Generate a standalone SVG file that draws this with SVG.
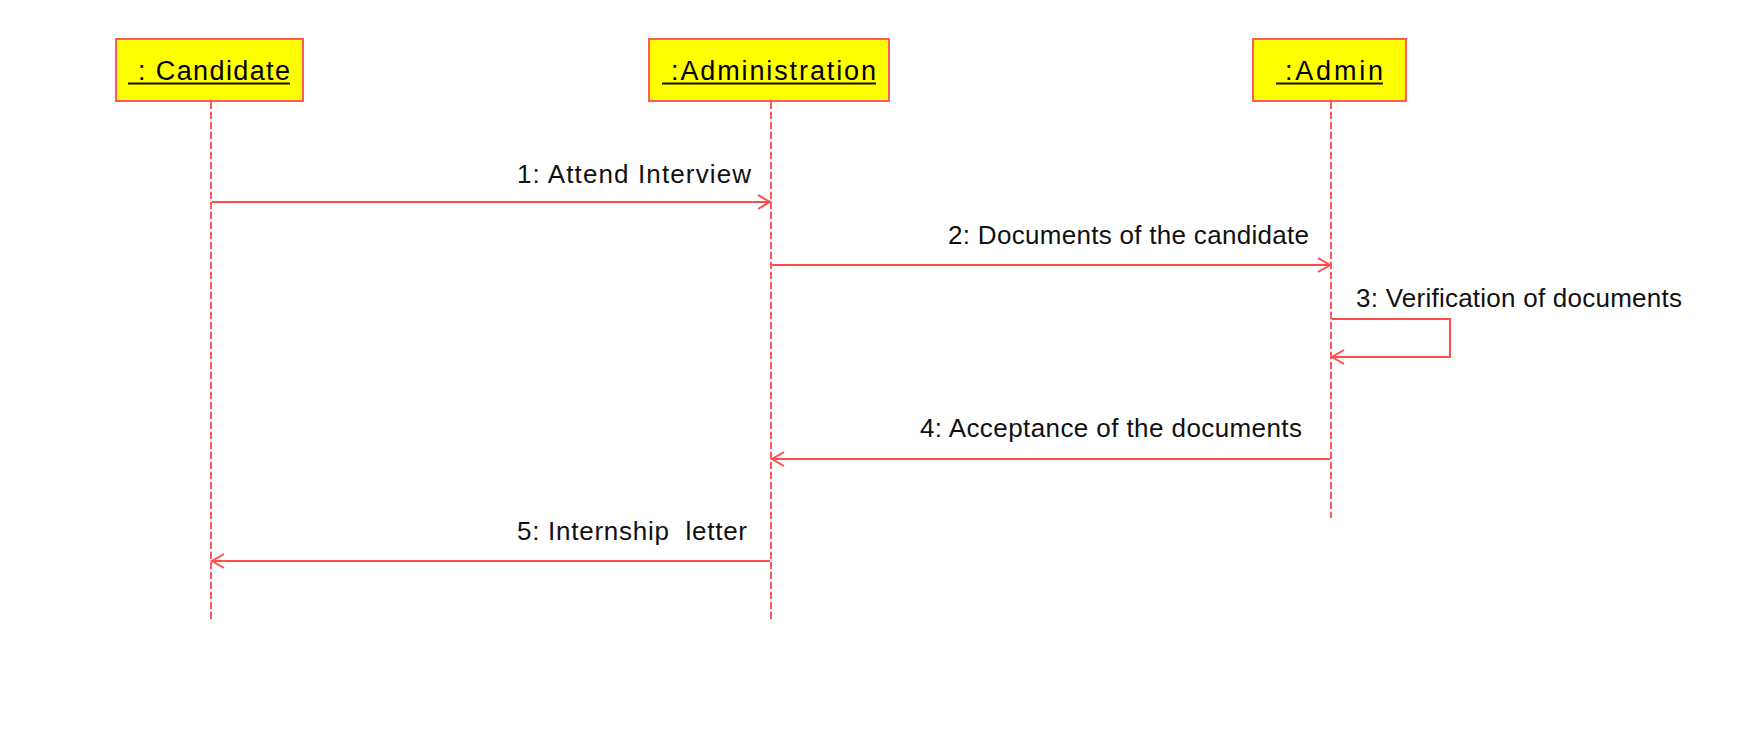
<svg xmlns="http://www.w3.org/2000/svg" width="1740" height="747" viewBox="0 0 1740 747">
<style>
.box{fill:#ffff00;stroke:#ff5a5a;stroke-width:2}
.obj{font-family:"Liberation Sans",Arial,sans-serif;font-size:27px;fill:#000}
.ul{stroke:#111;stroke-width:2}
.life{stroke:#ff5a5a;stroke-width:2;stroke-dasharray:7 3;fill:none}
.msg{stroke:#ff4d4d;stroke-width:2;fill:none}
.lbl{font-family:"Liberation Sans",Arial,sans-serif;font-size:26px;fill:#111}
</style>
<defs>
<marker id="arr" markerUnits="userSpaceOnUse" markerWidth="16" markerHeight="18" refX="13" refY="8" orient="auto">
<path d="M1,1 L13,8 L1,15" fill="none" stroke="#ff4d4d" stroke-width="2"/>
</marker>
</defs>
<g id="candidate">
<rect class="box" x="116" y="39" width="187" height="62"/>
<text class="obj" x="138" y="80" textLength="152" lengthAdjust="spacing">: Candidate</text>
<line class="ul" x1="128" y1="83.5" x2="290" y2="83.5"/>
<line class="life" x1="211" y1="102" x2="211" y2="620"/>
</g>
<g id="administration">
<rect class="box" x="649" y="39" width="240" height="62"/>
<text class="obj" x="671" y="80" textLength="205" lengthAdjust="spacing">:Administration</text>
<line class="ul" x1="662" y1="83.5" x2="876" y2="83.5"/>
<line class="life" x1="771" y1="102" x2="771" y2="620"/>
</g>
<g id="admin">
<rect class="box" x="1253" y="39" width="153" height="62"/>
<text class="obj" x="1285" y="80" textLength="98" lengthAdjust="spacing">:Admin</text>
<line class="ul" x1="1276" y1="83.5" x2="1383" y2="83.5"/>
<line class="life" x1="1331" y1="102" x2="1331" y2="518"/>
</g>
<g id="connectors">
<line class="msg" x1="212" y1="202" x2="770" y2="202" marker-end="url(#arr)"/>
<text class="lbl" x="517" y="183" textLength="234" lengthAdjust="spacing">1: Attend Interview</text>
<line class="msg" x1="772" y1="265" x2="1330" y2="265" marker-end="url(#arr)"/>
<text class="lbl" x="948" y="244" textLength="361" lengthAdjust="spacing">2: Documents of the candidate</text>
<polyline class="msg" points="1332,319 1450,319 1450,357 1332,357" marker-end="url(#arr)"/>
<text class="lbl" x="1356" y="307" textLength="326" lengthAdjust="spacing">3: Verification of documents</text>
<line class="msg" x1="1330" y1="459" x2="772" y2="459" marker-end="url(#arr)"/>
<text class="lbl" x="920" y="437" textLength="382" lengthAdjust="spacing">4: Acceptance of the documents</text>
<line class="msg" x1="770" y1="561" x2="212" y2="561" marker-end="url(#arr)"/>
<text class="lbl" x="517" y="540" xml:space="preserve" textLength="230" lengthAdjust="spacing">5: Internship  letter</text>
</g>
</svg>
